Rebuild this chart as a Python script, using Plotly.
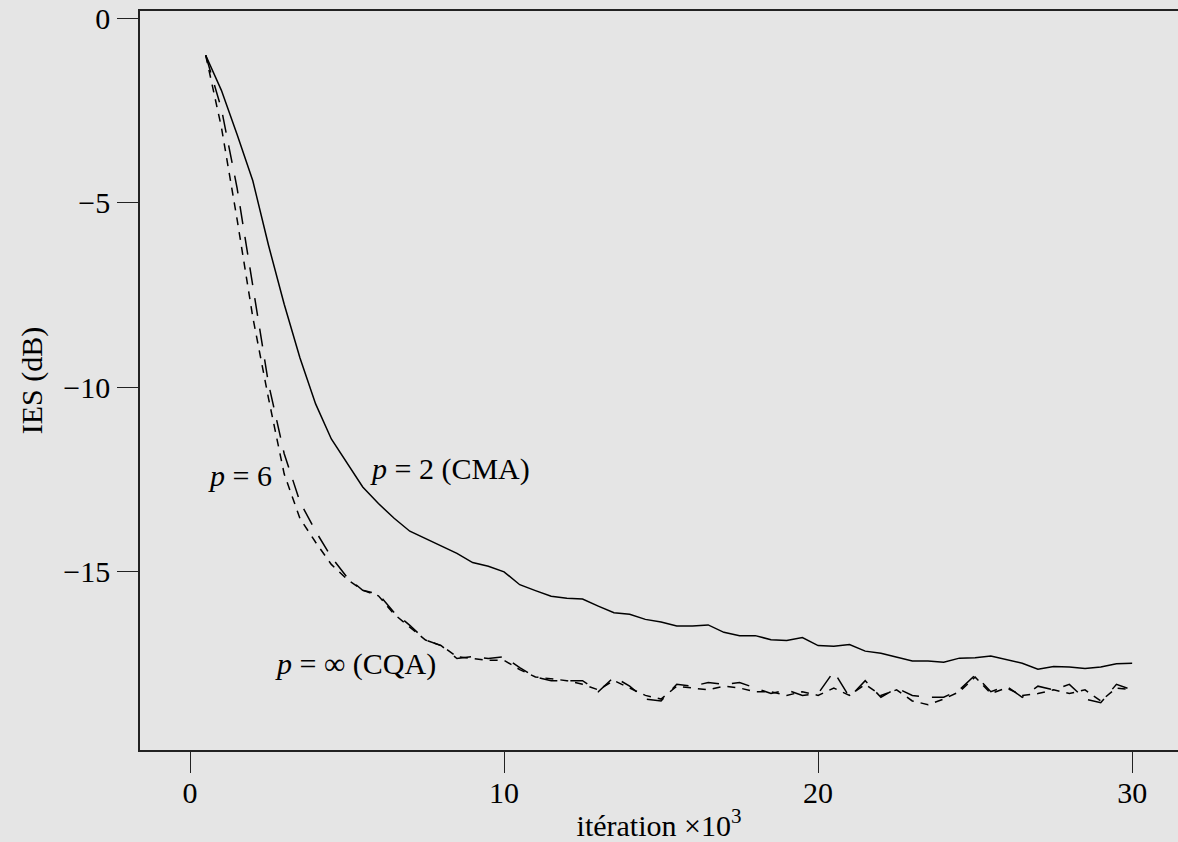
import plotly.graph_objects as go

# iteration (x10^3)
iters = [0.5 * i for i in range(1, 61)]

# p = 2 (CMA), solid
ies_cma = [-1.0, -1.95, -3.15, -4.4, -6.15, -7.75, -9.2, -10.45, -11.4, -12.05,
           -12.7, -13.15, -13.55, -13.9, -14.1, -14.28, -14.5, -14.75, -14.85, -15.0,
           -15.35, -15.51, -15.66, -15.72, -15.74, -15.93, -16.11, -16.15, -16.29, -16.36,
           -16.47, -16.47, -16.44, -16.64, -16.73, -16.73, -16.84, -16.86, -16.78, -17.0,
           -17.02, -16.97, -17.15, -17.21, -17.32, -17.42, -17.42, -17.45, -17.34, -17.33,
           -17.28, -17.39, -17.48, -17.64, -17.57, -17.58, -17.62, -17.58, -17.49, -17.48]

# short-dash curve
ies_a = [-1.0, -2.95, -5.45, -8.1, -10.3, -12.35, -13.55, -14.2, -14.8, -15.2,
         -15.5, -15.65, -16.15, -16.5, -16.85, -17.0, -17.3, -17.35, -17.4, -17.4,
         -17.65, -17.85, -17.9, -17.95, -18.05, -18.2, -17.95, -18.15, -18.35, -18.45,
         -18.1, -18.15, -18.2, -18.1, -18.15, -18.25, -18.25, -18.35, -18.25, -18.35,
         -18.15, -18.35, -18.05, -18.35, -18.2, -18.5, -18.6, -18.45, -18.25, -17.85,
         -18.3, -18.15, -18.35, -18.3, -18.2, -18.3, -18.2, -18.5, -18.15, -18.2]

# long-dash curve
ies_b = [-1.0, -2.45, -4.6, -7.25, -9.9, -11.8, -13.1, -13.9, -14.6, -15.15,
         -15.5, -15.6, -16.1, -16.45, -16.85, -17.0, -17.35, -17.3, -17.35, -17.3,
         -17.6, -17.85, -17.95, -17.95, -17.95, -18.25, -17.85, -18.1, -18.45, -18.5,
         -18.05, -18.1, -18.0, -18.05, -18.0, -18.15, -18.3, -18.2, -18.35, -18.3,
         -17.7, -18.4, -17.95, -18.4, -18.15, -18.35, -18.4, -18.4, -18.2, -17.8,
         -18.25, -18.1, -18.4, -18.1, -18.2, -18.05, -18.45, -18.55, -18.05, -18.2]

x_ticks = [0, 10, 20, 30]
x_ticktext = ["0", "10", "20", "30"]
y_ticks = [0, -5, -10, -15]
y_ticktext = ["0", "\u22125", "\u221210", "\u221215"]

FONT = "Liberation Serif, Times New Roman, serif"
BG = "#e5e5e5"

fig = go.Figure()
fig.add_trace(go.Scatter(x=iters, y=ies_cma, mode="lines",
                         line=dict(color="black", width=1.5), showlegend=False))
fig.add_trace(go.Scatter(x=iters, y=ies_a, mode="lines",
                         line=dict(color="black", width=1.5, dash="8px,7px"), showlegend=False))
fig.add_trace(go.Scatter(x=iters, y=ies_b, mode="lines",
                         line=dict(color="black", width=1.5, dash="18px,13px"), showlegend=False))

ann_font = dict(family=FONT, size=30, color="black")
fig.add_annotation(x=1.59, y=-12.4, text="<i>p</i> = 6", showarrow=False,
                   xanchor="center", yanchor="middle", font=ann_font)
fig.add_annotation(x=5.67, y=-12.21, text="<i>p</i> = 2 (CMA)", showarrow=False,
                   xanchor="left", yanchor="middle", font=ann_font)
fig.add_annotation(x=2.64, y=-17.5, text="<i>p</i> = ∞ (CQA)", showarrow=False,
                   xanchor="left", yanchor="middle", font=ann_font)

fig.update_layout(
    width=1178, height=842,
    margin=dict(l=140, r=0, t=11, b=92, autoexpand=False),
    paper_bgcolor=BG, plot_bgcolor=BG,
    font=dict(family=FONT, size=30, color="black"),
    xaxis=dict(range=[-1.592, 31.46], tickvals=x_ticks, ticktext=x_ticktext,
               ticks="outside", ticklen=21,
               tickwidth=1.2, tickcolor="#222", showline=True, linecolor="#222",
               linewidth=1.5, mirror=True, showgrid=False, zeroline=False,
               ticklabelstandoff=-6, automargin=False,
               title=dict(text="itération ×10<sup>3</sup>", standoff=10,
                          font=dict(family=FONT, size=30))),
    yaxis=dict(range=[-19.83, 0.2], tickvals=y_ticks, ticktext=y_ticktext,
               ticks="outside", ticklen=21,
               tickwidth=1.2, tickcolor="#222", showline=True, linecolor="#222",
               linewidth=1.5, mirror=False, showgrid=False, zeroline=False,
               ticklabelstandoff=1, automargin=False,
               title=dict(text="IES (dB)", standoff=12,
                          font=dict(family=FONT, size=30))),
)

fig.write_html("out.html", config={"displayModeBar": False},
               post_script="document.body.style.margin='0px';"
                           "document.body.style.overflow='hidden';")
